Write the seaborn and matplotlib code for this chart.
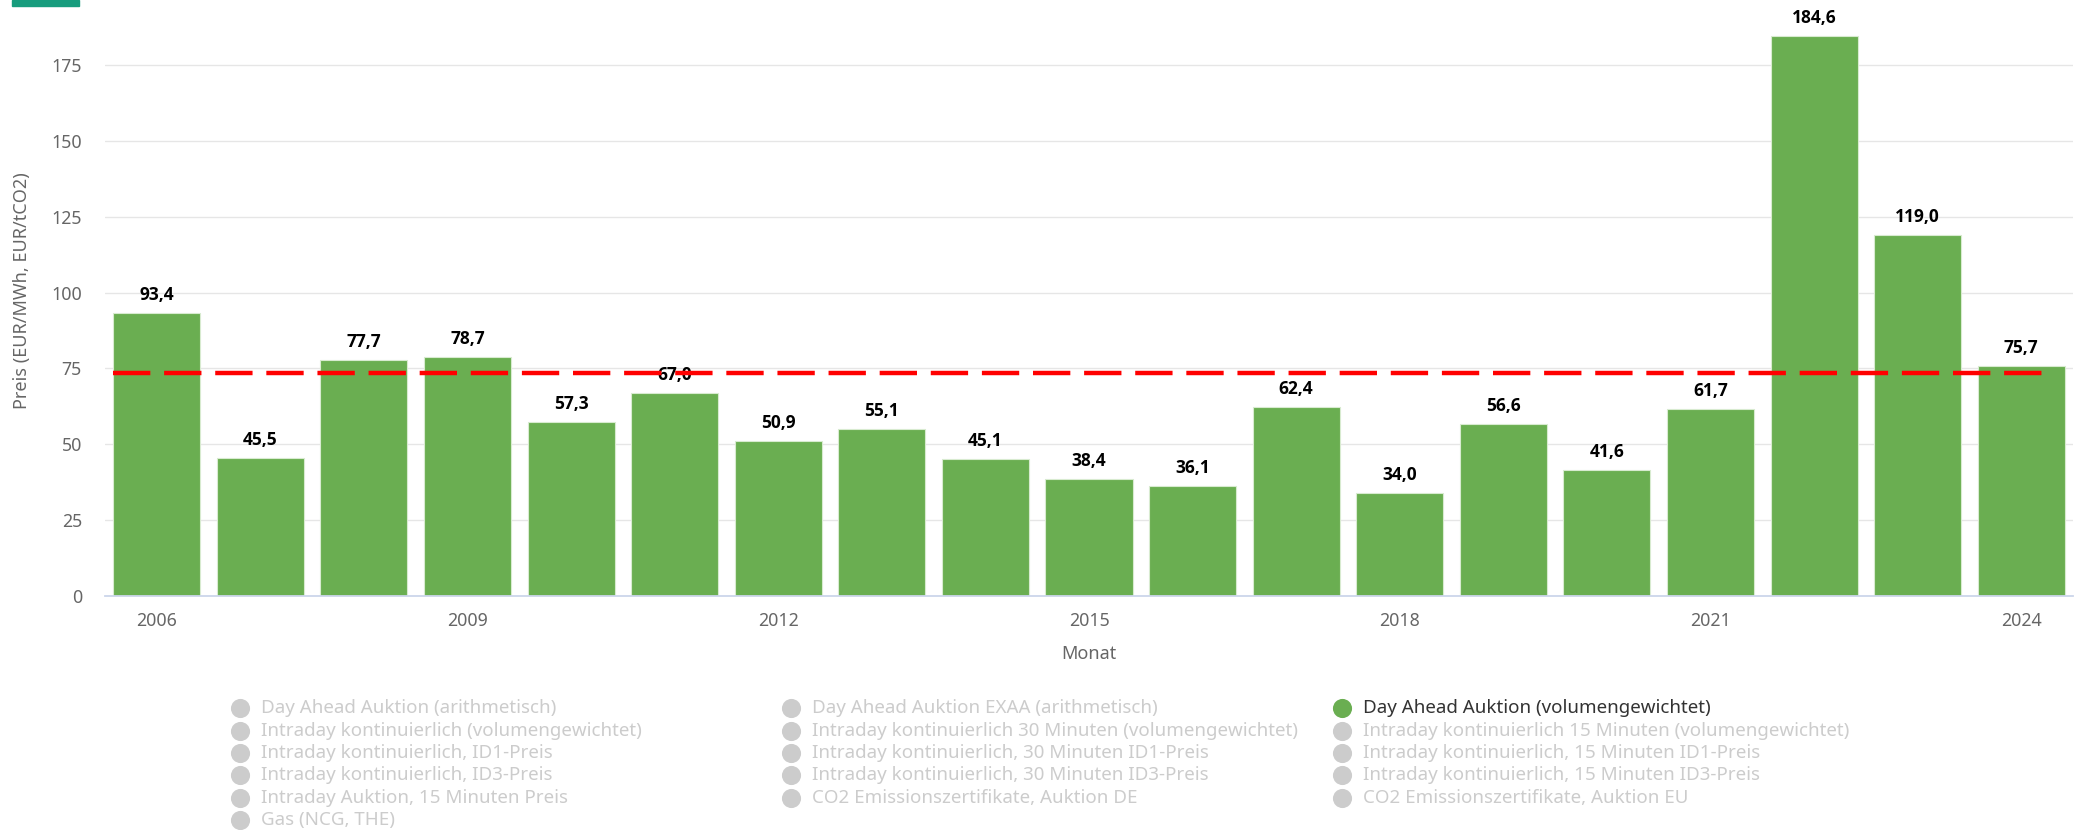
import matplotlib
matplotlib.use('Agg')
import matplotlib.pyplot as plt
import matplotlib.patches as mpatches
import seaborn as sns

# Jahresmittel Day Ahead Auktion (volumengewichtet), EUR/MWh
years = [str(y) for y in range(2006, 2025)]
prices = [93.4, 45.5, 77.7, 78.7, 57.3, 67.0, 50.9, 55.1, 45.1, 38.4,
          36.1, 62.4, 34.0, 56.6, 41.6, 61.7, 184.6, 119.0, 75.7]
avg_line = 73.4
tick_years = ['2006', '2009', '2012', '2015', '2018', '2021', '2024']
y_ticks = [0, 25, 50, 75, 100, 125, 150, 175]

legend_labels = [
    'Day Ahead Auktion (arithmetisch)',
    'Day Ahead Auktion EXAA (arithmetisch)',
    'Day Ahead Auktion (volumengewichtet)',
    'Intraday kontinuierlich (volumengewichtet)',
    'Intraday kontinuierlich 30 Minuten (volumengewichtet)',
    'Intraday kontinuierlich 15 Minuten (volumengewichtet)',
    'Intraday kontinuierlich, ID1-Preis',
    'Intraday kontinuierlich, 30 Minuten ID1-Preis',
    'Intraday kontinuierlich, 15 Minuten ID1-Preis',
    'Intraday kontinuierlich, ID3-Preis',
    'Intraday kontinuierlich, 30 Minuten ID3-Preis',
    'Intraday kontinuierlich, 15 Minuten ID3-Preis',
    'Intraday Auktion, 15 Minuten Preis',
    'CO2 Emissionszertifikate, Auktion DE',
    'CO2 Emissionszertifikate, Auktion EU',
    'Gas (NCG, THE)',
]
active_label = 'Day Ahead Auktion (volumengewichtet)'

green = '#6aae51'
grey_txt = '#666666'

sns.set_style('white')
plt.rcParams['font.family'] = ['Noto Sans', 'DejaVu Sans']

W, H = 2080, 830
fig = plt.figure(figsize=(W / 100, H / 100), dpi=100)
x0, x1, y0 = 105, 2073, 595.7
ax = fig.add_axes([x0 / W, (H - y0) / H, (x1 - x0) / W, 606.2 / H])

sns.barplot(x=years, y=prices, color=green, saturation=1, width=0.84,
            edgecolor='#d8ebd0', linewidth=0.8, ax=ax)
ax.set_ylim(0, 200)
ax.set_xlim(-0.5, len(years) - 0.5)

# Mittelwert-Linie
ax.plot([-0.42, len(years) - 0.67], [avg_line, avg_line], color='#ff0000',
        lw=3.2, ls=(0, (8.4, 3.1)), zorder=4)

# Datenbeschriftungen
for i, v in enumerate(prices):
    ax.annotate(f'{v:.1f}'.replace('.', ','), (i, v), xytext=(0, 13),
                textcoords='offset points', ha='center', va='center',
                fontsize=12.5, fontweight='bold', color='#000000', zorder=3,
                family=['Open Sans', 'DejaVu Sans'])

ax.set_yticks(y_ticks)
ax.set_xticks([years.index(t) for t in tick_years])
ax.set_xticklabels(tick_years)
ax.tick_params(axis='x', length=0, pad=12, labelsize=12.8, labelcolor=grey_txt)
ax.tick_params(axis='y', length=0, pad=16.6, labelsize=12.8, labelcolor=grey_txt)
ax.yaxis.grid(True, color='#e6e6e6', lw=1)
ax.set_axisbelow(True)
for s in ['top', 'right', 'left']:
    ax.spines[s].set_visible(False)
ax.spines['bottom'].set_color('#ccd6eb')
ax.spines['bottom'].set_linewidth(1.3)

ax.set_ylabel('Preis (EUR/MWh, EUR/tCO2)', fontsize=13, color=grey_txt)
ax.yaxis.set_label_coords((22 - x0) / (x1 - x0), 0.503)
ax.yaxis.label.set_va('center')
ax.set_xlabel('Monat', fontsize=13, color=grey_txt)
ax.xaxis.set_label_coords(0.5, -58 / 606.2)
ax.xaxis.label.set_va('center')

# Legende und Kopfbalken in Pixelkoordinaten
ov = fig.add_axes([0, 0, 1, 1])
ov.set_xlim(0, W)
ov.set_ylim(H, 0)
ov.axis('off')
ov.add_patch(mpatches.Rectangle((12, 0), 67, 6, color='#179c7d'))

col_x = [240, 791, 1342]
row_y0, row_dy = 708.3, 22.35
for k, lab in enumerate(legend_labels):
    r, c = divmod(k, 3)
    cx, cy = col_x[c], row_y0 + r * row_dy
    on = lab == active_label
    ov.scatter([cx], [cy], s=190, color=green if on else '#cccccc', lw=0)
    ov.text(cx + 21, cy, lab, fontsize=13.5, va='center', ha='left',
            color='#333333' if on else '#cccccc')

fig.savefig('out.png', dpi=100)
